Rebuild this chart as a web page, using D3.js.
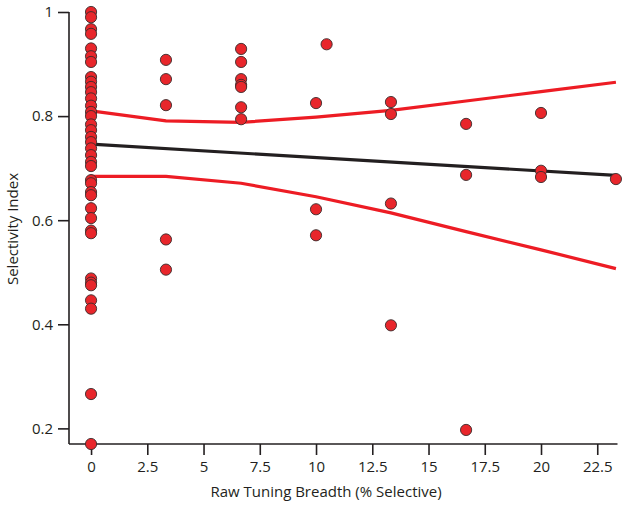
<!DOCTYPE html>
<html>
<head>
<meta charset="utf-8">
<script src="https://cdn.jsdelivr.net/npm/d3@7"></script>
<style>
  html, body { margin: 0; padding: 0; background: #fff; }
  text { font-family: "Open Sans", "Noto Sans", sans-serif; fill: #231f20; }
</style>
</head>
<body>
<svg id="chart" width="629" height="507"></svg>
<script>
// Data: tuning breadth (x) and selectivity index (y)
const xBreadth = [
  0,0,0,0,0,0,0,0,0,0,0,0,0,0,0,0,0,0,0,0,0,0,0,0,0,0,0,0,0,0,0,0,0,0,0,0,0,0,
  3.33,3.33,3.33,3.33,3.33,
  6.67,6.67,6.67,6.67,6.67,6.67,6.67,
  10,10,10,10.47,
  13.33,13.33,13.33,13.33,
  16.67,16.67,16.67,
  20,20,20,
  23.33
];
const ySelectivity = [
  1.0,0.99,0.967,0.958,0.93,0.915,0.904,0.875,0.866,0.856,0.846,0.834,0.82,0.808,0.8,0.784,0.773,0.76,0.75,0.738,0.725,0.712,0.704,0.677,0.671,0.654,0.648,0.623,0.604,0.58,0.575,0.488,0.48,0.475,0.446,0.43,0.266,0.17,
  0.908,0.871,0.821,0.563,0.505,
  0.929,0.904,0.871,0.86,0.856,0.817,0.794,
  0.825,0.621,0.571,0.938,
  0.827,0.804,0.632,0.398,
  0.785,0.687,0.197,
  0.806,0.695,0.683,
  0.679
];
// Fit and confidence band
const fitX = [0, 23.33];
const fitY = [0.746, 0.686];
const bandX = [0, 3.33, 6.67, 10, 13.33, 16.67, 20, 23.33];
const upperY = [0.81, 0.791, 0.788, 0.798, 0.811, 0.829, 0.847, 0.865];
const lowerY = [0.684, 0.684, 0.671, 0.645, 0.614, 0.578, 0.543, 0.507];
const xTicks = [0, 2.5, 5, 7.5, 10, 12.5, 15, 17.5, 20, 22.5];
const yTicks = [0.2, 0.4, 0.6, 0.8, 1];

const svg = d3.select("#chart");
const mLeft = 69, mRight = 617.5, mTop = 12, mBottom = 444;

const x = d3.scaleLinear().domain([-0.98, 23.4]).range([mLeft, mRight]);
const y = d3.scaleLinear().domain([0.17, 1]).range([mBottom, mTop]);

// Axes
const xAxis = d3.axisBottom(x).tickValues(xTicks).tickSize(11).tickPadding(6)
  .tickFormat(d => String(d));
const yAxis = d3.axisLeft(y).tickValues(yTicks).tickSize(11).tickPadding(5)
  .tickFormat(d => String(d));

const gx = svg.append("g").attr("transform", `translate(0,${mBottom})`).call(xAxis);
const gy = svg.append("g").attr("transform", `translate(${mLeft},0)`).call(yAxis);
gx.select(".domain").attr("d", `M${mLeft},0H${mRight}`);
gy.select(".domain").attr("d", `M0,${mTop}V${mBottom}`);
[gx, gy].forEach(g => {
  g.select(".domain").attr("stroke", "#231f20").attr("stroke-width", 1.6);
  g.selectAll(".tick line").attr("stroke", "#231f20").attr("stroke-width", 1.6);
  g.selectAll(".tick text").style("font-size", "15px").attr("fill", "#231f20")
    .style("font-family", "'Open Sans', sans-serif");
});

// Axis titles
svg.append("text").attr("x", 326).attr("y", 497).attr("text-anchor", "middle")
  .style("font-size", "15px").text("Raw Tuning Breadth (% Selective)");
svg.append("text").attr("transform", "translate(18,229) rotate(-90)")
  .attr("text-anchor", "middle").style("font-size", "15px").text("Selectivity Index");

// Lines
const line = d3.line().x(d => x(d[0])).y(d => y(d[1]));
svg.append("path").datum(bandX.map((v, i) => [v, upperY[i]]))
  .attr("d", line).attr("fill", "none").attr("stroke", "#ed1c24").attr("stroke-width", 3.2);
svg.append("path").datum(bandX.map((v, i) => [v, lowerY[i]]))
  .attr("d", line).attr("fill", "none").attr("stroke", "#ed1c24").attr("stroke-width", 3.2);
svg.append("path").datum(fitX.map((v, i) => [v, fitY[i]]))
  .attr("d", line).attr("fill", "none").attr("stroke", "#231f20").attr("stroke-width", 3.2);

// Points
svg.append("g").selectAll("circle").data(xBreadth.map((v, i) => [v, ySelectivity[i]]))
  .join("circle")
  .attr("cx", d => x(d[0])).attr("cy", d => y(d[1])).attr("r", 5.6)
  .attr("fill", "#e8262b").attr("stroke", "#3a2a2a").attr("stroke-width", 0.9);
</script>
</body>
</html>
